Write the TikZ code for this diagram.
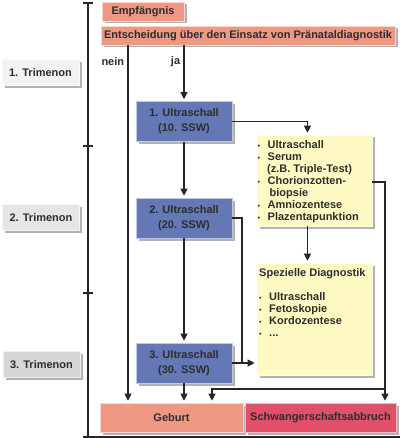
\documentclass[tikz,border=0pt]{standalone}
\usepackage{fontspec}
\setmainfont{Liberation Sans}
\usetikzlibrary{arrows.meta, shadows}
\definecolor{salmon}{RGB}{238,152,132}
\definecolor{abbruchred}{RGB}{224,80,104}
\definecolor{usblue}{RGB}{100,120,182}
\definecolor{noteyellow}{RGB}{255,250,196}
\definecolor{txt}{RGB}{45,45,45}
\tikzset{>={Triangle[length=7pt,width=7pt]},
every node/.style={text=txt, font=\fontsize{11}{15}\selectfont\bfseries},
box/.style={draw=white!60!#1, fill=#1, line width=0.6pt, inner sep=0pt,
  drop shadow={shadow xshift=2.5pt, shadow yshift=-2.5pt, fill=black, opacity=0.3}},
phase/.style={box=#1, minimum width=77pt, minimum height=26pt},
us/.style={box=usblue, minimum width=96pt, minimum height=40pt, align=center},
note/.style={box=noteyellow, minimum width=115pt},
notetext/.style={anchor=north west, inner sep=0pt, align=left,
  font=\fontsize{11}{12.1}\selectfont\bfseries},
flow/.style={->, line width=1.1pt, draw=black!85, shorten >=2pt},
plain/.style={line width=1.1pt, draw=black!85},
}
\newcommand{\itm}{\makebox[10pt][l]{\fontsize{7}{7}\selectfont\textbullet}}

\begin{document}
\begin{tikzpicture}[x=1pt, y=-1pt]
    \useasboundingbox (0,0) rectangle (400,438);
    % time axis
    \draw[plain] (88,3) -- (88,436);
    \foreach \y in {3,146,293}
        \draw[plain] (83,\y) -- (93,\y);
    \draw[line width=2pt, black!85] (83,436.5) -- (400,436.5);

    \node[phase=black!5] (tri1) at (40.5,72.5) {1. Trimenon};
    \node[phase=black!10] (tri2) at (41,217.5) {2. Trimenon};
    \node[phase=black!16] (tri3) at (41.5,364.5) {3. Trimenon};

    \node[box=salmon, minimum width=82pt, minimum height=19pt] (empf) at (143,11.5) {Empfängnis};
    \node[box=salmon, minimum width=294pt, minimum height=19pt] (entsch) at (248,35.5)
        {Entscheidung über den Einsatz von Pränataldiagnostik};

    \node[us] (us1) at (184,121.5) {1. Ultraschall\\(10. SSW)};
    \node[us] (us2) at (184,218) {2. Ultraschall\\(20. SSW)};
    \node[us] (us3) at (184,363) {3. Ultraschall\\(30. SSW)};

    \node[note, minimum height=91pt] (diag1) at (314.5,180.5) {};
    \node[notetext] (diag1txt) at (257.5,140) {
        \itm Ultraschall\\
        \itm Serum\\
        \hspace{9.5pt}(z.B. Triple-Test)\\
        \itm Chorionzotten-\\
        \hspace{12pt}biopsie\\
        \itm Amniozentese\\
        \itm Plazentapunktion};
    \node[note, minimum height=112pt] (diag2) at (314.5,319) {};
    \node[notetext] (diag2txt) at (259,268) {
        Spezielle Diagnostik\\[12.1pt]
        \itm Ultraschall\\
        \itm Fetoskopie\\
        \itm Kordozentese\\
        \itm ...};

    \node[box=salmon, minimum width=143pt, minimum height=29pt] (geburt) at (171.5,417.5) {Geburt};
    \node[box=abbruchred, minimum width=151pt, minimum height=29pt] (abbruch) at (320.5,417.5)
        {Schwangerschaftsabbruch};

    \coordinate (nein) at (128,0);
    \coordinate (knot) at (242,363);
    \coordinate (split) at (385,389);

    \draw[flow] (entsch.south -| nein) -- node[pos=0.045, left] {nein} (geburt.north -| nein);
    \draw[flow] (us1 |- entsch.south) -- node[pos=0.29, left] {ja} (us1);
    \draw[flow] (us1) -- (us2);
    \draw[flow] (us2) -- (us3);
    \draw[flow] (us3) -- (us3 |- geburt.north);
    \draw[flow] (us1.east) -| ([xshift=-7pt]diag1.north);
    \draw[flow] ([xshift=-7pt]diag1.south) -- ([xshift=-7pt]diag2.north);
    \draw[plain] (us2.east) -| (knot);
    \draw[flow] (us3.east) -- (us3.east -| diag2.west);
    \draw[flow] ([yshift=-1.5pt]diag1.east) -| (abbruch.north -| split);
    \draw[flow] (split) -| ([xshift=40.5pt]geburt.north);
\end{tikzpicture}
\end{document}
